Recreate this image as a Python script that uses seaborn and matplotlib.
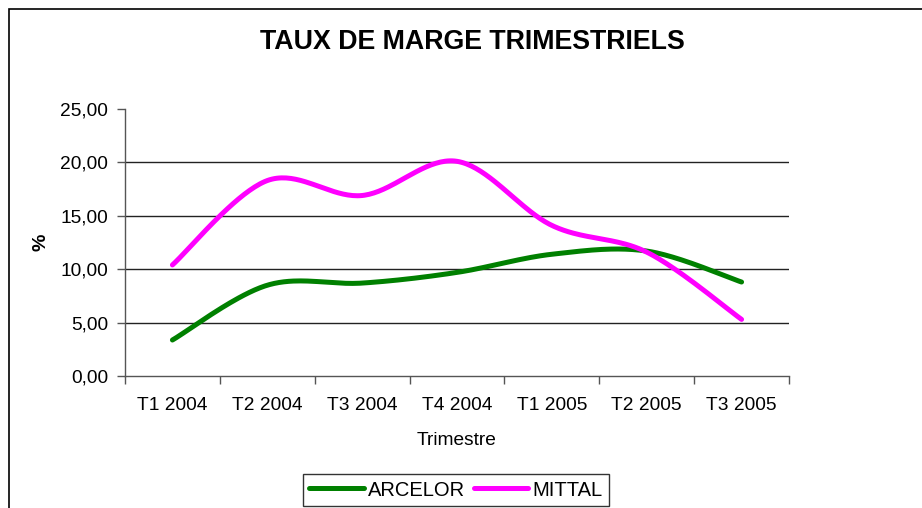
import numpy as np
import pandas as pd
import matplotlib
matplotlib.use('Agg')
import matplotlib.pyplot as plt
import seaborn as sns
from matplotlib.patches import Rectangle
from matplotlib.ticker import FuncFormatter

# Data
trimestres = ['T1 2004', 'T2 2004', 'T3 2004', 'T4 2004', 'T1 2005', 'T2 2005', 'T3 2005']
arcelor = [3.37, 8.5, 8.7, 9.7, 11.4, 11.7, 8.8]
mittal = [10.4, 18.3, 16.9, 20.1, 14.1, 11.6, 5.3]
series_names = ['ARCELOR', 'MITTAL']
colors = {'ARCELOR': '#008000', 'MITTAL': '#FF00FF'}


def smooth(y, n=40):
    # Excel-like smoothed line (Catmull-Rom through the points)
    y = np.asarray(y, dtype=float)
    x = np.arange(len(y), dtype=float)
    px = np.concatenate([[x[0]], x, [x[-1]]])
    py = np.concatenate([[y[0]], y, [y[-1]]])
    xs, ys = [], []
    for i in range(1, len(px) - 2):
        t = np.linspace(0, 1, n, endpoint=False)
        for p, out in ((px, xs), (py, ys)):
            p0, p1, p2, p3 = p[i - 1], p[i], p[i + 1], p[i + 2]
            out.extend(0.5 * (2 * p1 + (-p0 + p2) * t
                              + (2 * p0 - 5 * p1 + 4 * p2 - p3) * t ** 2
                              + (-p0 + 3 * p1 - 3 * p2 + p3) * t ** 3))
    xs.append(x[-1])
    ys.append(y[-1])
    return np.array(xs), np.array(ys)


frames = []
for name, vals in zip(series_names, [arcelor, mittal]):
    sx, sy = smooth(vals)
    frames.append(pd.DataFrame({'x': sx, 'y': sy, 'serie': name}))
df = pd.concat(frames, ignore_index=True)

sns.set_style('white')
plt.rcParams['font.family'] = ['Liberation Sans', 'DejaVu Sans']
plt.rcParams['text.color'] = 'black'
plt.rcParams['axes.labelcolor'] = 'black'
plt.rcParams['xtick.color'] = 'black'
plt.rcParams['ytick.color'] = 'black'

fig = plt.figure(figsize=(9.22, 5.08), dpi=100)
ax = fig.add_axes([125 / 922, 1 - 376 / 508, 664 / 922, 267 / 508])

# gridlines
for v in [5, 10, 15, 20]:
    ax.axhline(v, color='#222222', lw=1.0, zorder=1)

sns.lineplot(data=df, x='x', y='y', hue='serie', palette=colors, sort=False,
             lw=3.6, ax=ax, legend=False, zorder=3)

ax.set_xlim(-0.5, len(trimestres) - 0.5)
ax.set_ylim(0, 25)
ax.set_yticks([0, 5, 10, 15, 20, 25])
ax.yaxis.set_major_formatter(FuncFormatter(lambda v, p: f'{v:.2f}'.replace('.', ',')))
ax.set_xticks(np.arange(-0.5, len(trimestres)), labels=[])
ax.set_xticks(np.arange(len(trimestres)), labels=trimestres, minor=True)
ax.tick_params(axis='x', which='major', length=6, width=1, color='#555555', direction='out', bottom=True)
ax.tick_params(axis='x', which='minor', length=0, pad=15, labelsize=13.8)
ax.tick_params(axis='y', length=6, width=1, color='#555555', direction='out', left=True, labelsize=13.8, pad=6)
for s in ['top', 'right']:
    ax.spines[s].set_visible(False)
for s in ['left', 'bottom']:
    ax.spines[s].set_color('#555555')
    ax.spines[s].set_linewidth(1.0)

ax.set_xlabel('Trimestre', fontsize=13.8, labelpad=13)
ax.set_ylabel('%', fontsize=14, fontweight='bold', labelpad=8)
fig.text(472 / 922, 1 - 42 / 508, 'TAUX DE MARGE TRIMESTRIELS', ha='center', va='center',
         fontsize=19.3, fontweight='bold')

# outer chart frame
fig.patches.append(Rectangle((9 / 922, -0.1), 1.2, 1 - 9 / 508 + 0.1, transform=fig.transFigure,
                             fill=False, ec='black', lw=1.2))

handles = [plt.Line2D([], [], color=colors[n], lw=3.6) for n in series_names]
leg = fig.legend(handles, series_names, loc='center', bbox_to_anchor=(456 / 922, 1 - 490 / 508),
                 ncol=2, frameon=True, fancybox=False, fontsize=14.5, handlelength=2.7,
                 handletextpad=0.2, columnspacing=0.45, borderpad=0.3, borderaxespad=0)
leg.get_frame().set_edgecolor('black')
leg.get_frame().set_linewidth(1.0)

fig.savefig('out.png', dpi=100)
